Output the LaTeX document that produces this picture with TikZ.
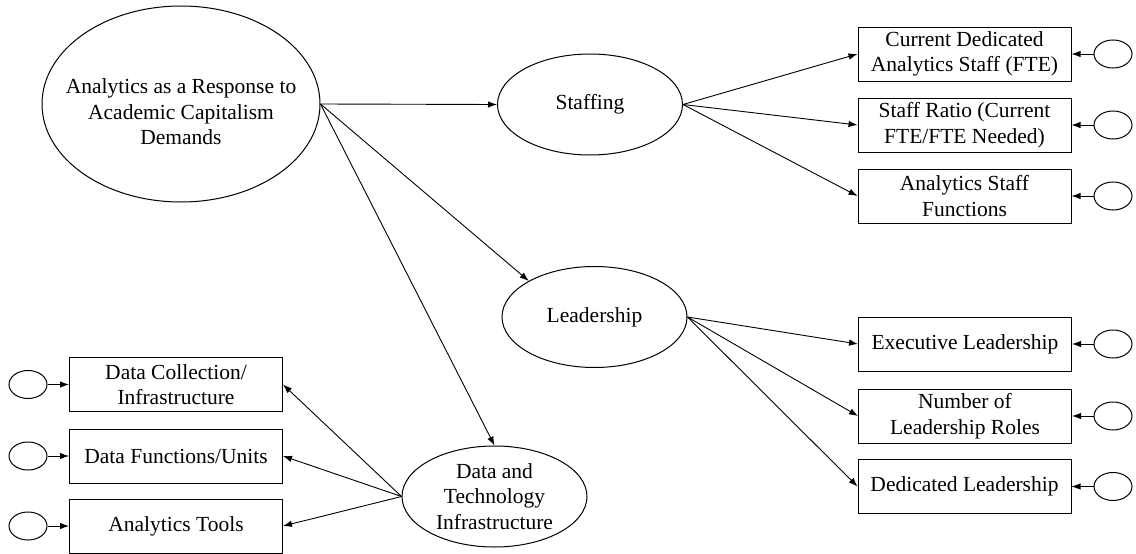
\documentclass[tikz,border=0pt]{standalone}
\usepackage{fontspec}
\setmainfont{Liberation Serif}
\usetikzlibrary{shapes.geometric,arrows.meta}
\begin{document}
\begin{tikzpicture}[x=1pt,y=-1pt,
  every node/.style={font=\fontsize{21.5}{25.5}\selectfont},
  lat/.style={draw, ellipse, line width=1pt, minimum width=185pt, minimum height=101pt, inner sep=0pt},
  txt/.style={align=center, inner sep=0pt},
  ind/.style={draw, rectangle, line width=1pt, minimum width=213pt, minimum height=54pt, align=center, inner sep=0pt},
  err/.style={draw, ellipse, line width=1pt, minimum width=38pt, minimum height=28pt, inner sep=0pt},
  arr/.style={-{Latex[length=9pt,width=6.5pt]}, line width=0.9pt}]
\useasboundingbox (0,0) rectangle (1136,554);
% latent variables
\node[lat, minimum width=278pt, minimum height=196pt] (big) at (181,104) {};
\node[txt] (bigt) at (181,112) {Analytics as a Response to\\Academic Capitalism\\Demands};
\node[lat] (staff) at (590,104.5) {};
\node[txt] (stafft) at (590,104.5) {Staffing};
\node[lat] (lead) at (594.5,317) {};
\node[txt] (leadt) at (594.5,317) {Leadership};
\node[lat] (data) at (494.5,496.5) {};
\node[txt] (datat) at (494.5,496.5) {Data and\\Technology\\Infrastructure};
% indicators right
\node[ind] (s1) at (964.5,54) {Current Dedicated\\Analytics Staff (FTE)};
\node[ind] (s2) at (964.5,125) {Staff Ratio (Current\\FTE/FTE Needed)};
\node[ind] (s3) at (964.5,196) {Analytics Staff\\Functions};
\node[ind] (l1) at (965,344) {Executive Leadership};
\node[ind] (l2) at (965,416) {Number of\\Leadership Roles};
\node[ind] (l3) at (964.5,486.5) {Dedicated Leadership};
% indicators left
\node[ind] (d1) at (176,384.5) {Data Collection/\\Infrastructure};
\node[ind] (d2) at (176,456) {Data Functions/Units};
\node[ind] (d3) at (176,526) {Analytics Tools};
% error terms
\node[err] (es1) at (1113,54) {};
\node[err] (es2) at (1113,125) {};
\node[err] (es3) at (1113,196) {};
\node[err] (el1) at (1113,344) {};
\node[err] (el2) at (1113,416) {};
\node[err] (el3) at (1113,486.5) {};
\node[err] (ed1) at (28,384.5) {};
\node[err] (ed2) at (28,456) {};
\node[err] (ed3) at (28,526) {};
% paths
\draw[arr] (big.east) -- (staff.west);
\draw[arr] (big.east) -- (lead.north west);
\draw[arr] (big.east) -- (data.north);
\foreach \b in {s1,s2,s3} \draw[arr] (staff.east) -- (\b.west);
\foreach \b in {l1,l2,l3} \draw[arr] (lead.east) -- (\b.west);
\foreach \b in {d1,d2,d3} \draw[arr] (data.west) -- (\b.east);
\foreach \b in {s1,s2,s3,l1,l2,l3} \draw[arr] (e\b.west) -- (\b.east);
\foreach \b in {d1,d2,d3} \draw[arr] (e\b.east) -- (\b.west);
\end{tikzpicture}
\end{document}
